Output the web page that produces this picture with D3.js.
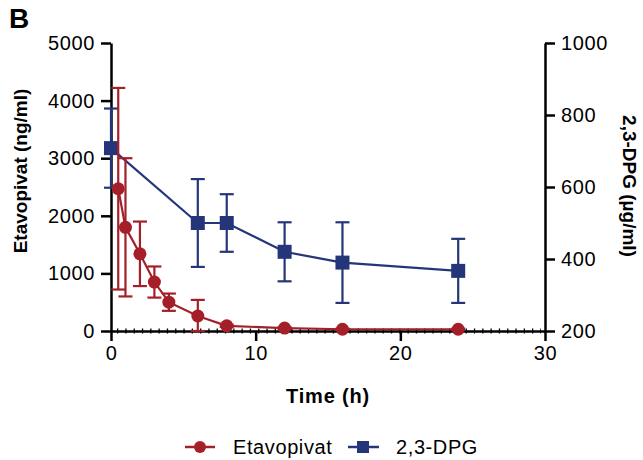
<!DOCTYPE html>
<html>
<head>
<meta charset="utf-8">
<script src="https://cdn.jsdelivr.net/npm/d3@7"></script>
<style>
  body { margin: 0; background: #fff; }
  text { font-family: "Liberation Sans", Arial, Helvetica, sans-serif; fill: #000; }
  .tick-label { font-size: 20px; letter-spacing: 0.6px; }
  .axis-title { font-size: 19px; font-weight: bold; }
</style>
</head>
<body>
<svg id="chart" width="643" height="460"></svg>
<script>
// Etavopivat plasma concentration (left axis, ng/ml)
var etaTime = [0.5, 1, 2, 3, 4, 6, 8, 12, 16, 24];
var etaMean = [2470, 1800, 1340, 850, 500, 260, 90, 50, 30, 30];
var etaSd   = [1750, 1200, 560, 270, 150, 280, 20, 15, 10, 10];

// 2,3-DPG (right axis, µg/ml)
var dpgTime = [0, 6, 8, 12, 16, 24];
var dpgMean = [708, 500, 500, 420, 390, 367];
var dpgSd   = [110, 122, 80, 82, 112, 89];

var xTicks = [0, 10, 20, 30];
var leftTicks = [0, 1000, 2000, 3000, 4000, 5000];
var rightTicks = [200, 400, 600, 800, 1000];

var RED = '#a41f28';
var BLUE = '#243679';

var svg = d3.select('#chart');

var x = d3.scaleLinear().domain([0, 30]).range([111, 545]);
var yL = d3.scaleLinear().domain([0, 5000]).range([331, 43]);
var yR = d3.scaleLinear().domain([200, 1000]).range([331, 43]);

// panel letter
svg.append('text')
  .attr('x', 9)
  .attr('y', 28)
  .style('font-size', '28px')
  .style('font-weight', 'bold')
  .text('B');

// axes
function styleAxis(g) {
  g.attr('font-size', null).attr('font-family', null);
  g.selectAll('.domain').attr('stroke', '#000').attr('stroke-width', 2.5);
  g.selectAll('.tick line').attr('stroke', '#000').attr('stroke-width', 2.5);
  g.selectAll('.tick text')
    .attr('class', 'tick-label')
    .attr('fill', '#000');
}

var xAxis = d3.axisBottom(x).tickValues(xTicks).tickFormat(d3.format('d'))
  .tickSize(10).tickSizeOuter(0).tickPadding(5);
svg.append('g')
  .attr('transform', 'translate(0,331)')
  .call(xAxis)
  .call(styleAxis);

// dotted baseline along the x axis
svg.append('line')
  .attr('x1', x(0) + 6)
  .attr('x2', x(30) - 4)
  .attr('y1', 331)
  .attr('y2', 331)
  .attr('stroke', '#000')
  .attr('stroke-width', 5)
  .attr('stroke-dasharray', '1.3,7');

var leftAxis = d3.axisLeft(yL).tickValues(leftTicks).tickFormat(d3.format('d'))
  .tickSize(10).tickSizeOuter(0).tickPadding(6);
svg.append('g')
  .attr('transform', 'translate(111,0)')
  .call(leftAxis)
  .call(styleAxis);

var rightAxis = d3.axisRight(yR).tickValues(rightTicks).tickFormat(d3.format('d'))
  .tickSize(10).tickSizeOuter(0).tickPadding(6);
svg.append('g')
  .attr('transform', 'translate(545,0)')
  .call(rightAxis)
  .call(styleAxis);

// axis titles
svg.append('text')
  .attr('class', 'axis-title')
  .attr('x', 328)
  .attr('y', 403)
  .attr('text-anchor', 'middle')
  .style('font-size', '20px')
  .style('letter-spacing', '0.8px')
  .text('Time (h)');

svg.append('text')
  .attr('class', 'axis-title')
  .attr('transform', 'translate(27,171) rotate(-90)')
  .attr('text-anchor', 'middle')
  .text('Etavopivat (ng/ml)');

svg.append('text')
  .attr('class', 'axis-title')
  .attr('transform', 'translate(623,186) rotate(90)')
  .attr('text-anchor', 'middle')
  .text('2,3-DPG (\u00b5g/ml)');

// series helpers
function drawErrors(times, means, sds, yScale, color) {
  var lo = yScale.domain()[0];
  var g = svg.append('g').attr('stroke', color).attr('stroke-width', 2.2);
  times.forEach(function(t, i) {
    var top = yScale(means[i] + sds[i]);
    var bot = yScale(Math.max(lo, means[i] - sds[i]));
    var cx = x(t);
    g.append('line').attr('x1', cx).attr('x2', cx).attr('y1', top).attr('y2', bot);
    g.append('line').attr('x1', cx - 7).attr('x2', cx + 7).attr('y1', top).attr('y2', top);
    g.append('line').attr('x1', cx - 7).attr('x2', cx + 7).attr('y1', bot).attr('y2', bot);
  });
}

function drawLine(times, means, yScale, color) {
  var line = d3.line()
    .x(function(d) { return x(d[0]); })
    .y(function(d) { return yScale(d[1]); });
  svg.append('path')
    .datum(times.map(function(t, i) { return [t, means[i]]; }))
    .attr('d', line)
    .attr('fill', 'none')
    .attr('stroke', color)
    .attr('stroke-width', 2.2);
}

// 2,3-DPG
drawErrors(dpgTime, dpgMean, dpgSd, yR, BLUE);
drawLine(dpgTime, dpgMean, yR, BLUE);
svg.append('g').selectAll('rect')
  .data(dpgTime)
  .enter()
  .append('rect')
  .attr('x', function(d) { return x(d) - 7; })
  .attr('y', function(d, i) { return yR(dpgMean[i]) - 7; })
  .attr('width', 14)
  .attr('height', 14)
  .attr('fill', BLUE);

// Etavopivat
drawErrors(etaTime, etaMean, etaSd, yL, RED);
drawLine(etaTime, etaMean, yL, RED);
svg.append('g').selectAll('circle')
  .data(etaTime)
  .enter()
  .append('circle')
  .attr('cx', function(d) { return x(d); })
  .attr('cy', function(d, i) { return yL(etaMean[i]); })
  .attr('r', 6.5)
  .attr('fill', RED);

// legend
var legend = svg.append('g').attr('transform', 'translate(0,447)');
legend.append('line').attr('x1', 185).attr('x2', 215).attr('stroke', RED).attr('stroke-width', 2.5);
legend.append('circle').attr('cx', 200).attr('r', 6).attr('fill', RED);
legend.append('text').attr('x', 233).attr('y', 7).attr('class', 'tick-label').text('Etavopivat');
legend.append('line').attr('x1', 348).attr('x2', 379).attr('stroke', BLUE).attr('stroke-width', 2.5);
legend.append('rect').attr('x', 357).attr('y', -6).attr('width', 12).attr('height', 12).attr('fill', BLUE);
legend.append('text').attr('x', 396).attr('y', 7).attr('class', 'tick-label').text('2,3-DPG');
</script>
</body>
</html>
